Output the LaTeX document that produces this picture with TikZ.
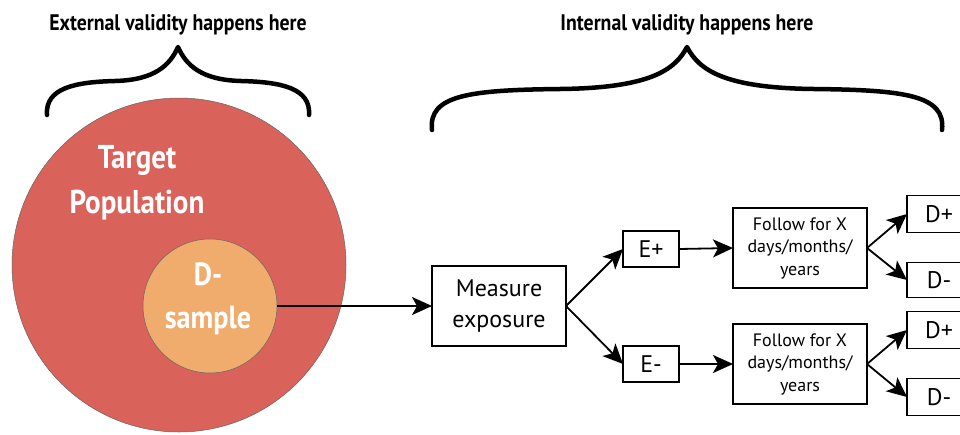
\documentclass[tikz,border=0pt]{standalone}
\usepackage{fontspec}
\setmainfont{PT Sans}
\newfontfamily\headfont[FakeStretch=0.88]{PT Sans}
\usetikzlibrary{arrows.meta}
\definecolor{popred}{HTML}{D9625A}
\definecolor{samporange}{HTML}{EFAC6D}
\tikzset{
  every node/.style={inner sep=0pt, outer sep=0pt},
  stepbox/.style={draw=black, line width=1.4pt, fill=white, align=center},
  conn/.style={line width=1.8pt, -{Stealth[length=20pt,width=18pt,inset=5pt]}},
  brace/.style={line width=4.5pt, line cap=round, line join=round},
  headtxt/.style={font=\headfont\bfseries\fontsize{22.5}{26}\selectfont},
  circtxt/.style={text=white, align=center, font=\headfont\bfseries\fontsize{33}{45}\selectfont},
  boxtxt/.style={font=\fontsize{24}{31}\selectfont},
  smalltxt/.style={font=\fontsize{18}{22.5}\selectfont},
}
\begin{document}
\begin{tikzpicture}[x=1pt,y=-1pt]
\clip (0,0) rectangle (960,434);
\fill[white] (0,0) rectangle (960,434);

% headings
\node[headtxt] (exthead) at (178,25) {External validity happens here};
\node[headtxt] (inthead) at (687,25) {Internal validity happens here};

% curly braces under the headings
\draw[brace] (47,115) .. controls (45,88) and (75,82) .. (115,81)
  .. controls (155,80) and (170,65) .. (178,47)
  .. controls (186,65) and (201,80) .. (241,81)
  .. controls (281,82) and (311,88) .. (309,115);
\draw[brace] (432,130) .. controls (428,95) and (470,90) .. (560,89)
  .. controls (650,88) and (675,70) .. (687,47)
  .. controls (699,70) and (724,88) .. (814,89)
  .. controls (904,90) and (946,95) .. (942,130);

% population and sample
\node[circle, draw=black!60, line width=0.5pt, fill=popred, minimum size=334pt] (pop) at (179,265) {};
\node[circtxt] (poptxt) at (137,183) {Target\\Population};
\node[circle, draw=black!60, line width=0.5pt, fill=samporange, minimum size=134pt] (samp) at (210,306) {};
\node[circtxt, font=\headfont\bfseries\fontsize{32}{43}\selectfont] (samptxt) at (208,299) {D-\\sample};

% study steps
\node[stepbox, boxtxt, minimum width=134pt, minimum height=80pt] (measure) at (499,306) {Measure\\exposure};
\node[stepbox, boxtxt, minimum width=56pt, minimum height=36pt] (ep) at (651,249) {E+};
\node[stepbox, boxtxt, minimum width=56pt, minimum height=36pt] (em) at (651,364) {E-};
\node[stepbox, smalltxt, minimum width=134pt, minimum height=80pt] (f1) at (800,248) {Follow for X\\days/months/\\years};
\node[stepbox, smalltxt, minimum width=134pt, minimum height=80pt] (f2) at (800,364) {Follow for X\\days/months/\\years};
\node[stepbox, boxtxt, minimum width=64pt, minimum height=37pt] (d1p) at (939,214) {D+};
\node[stepbox, boxtxt, minimum width=64pt, minimum height=35pt] (d1m) at (939,280) {D-};
\node[stepbox, boxtxt, minimum width=64pt, minimum height=37pt] (d2p) at (939,330) {D+};
\node[stepbox, boxtxt, minimum width=64pt, minimum height=37pt] (d2m) at (939,397) {D-};

% connectors
\draw[conn] (samp.east) -- (measure.west);
\draw[conn] (measure.east) -- (ep.west);
\draw[conn] (measure.east) -- (em.west);
\draw[conn] (ep.east) -- (f1.west);
\draw[conn] (em.east) -- (f2.west);
\draw[conn] (f1.east) -- (d1p.west);
\draw[conn] (f1.east) -- (d1m.west);
\draw[conn] (f2.east) -- (d2p.west);
\draw[conn] (f2.east) -- (d2m.west);
\end{tikzpicture}
\end{document}
